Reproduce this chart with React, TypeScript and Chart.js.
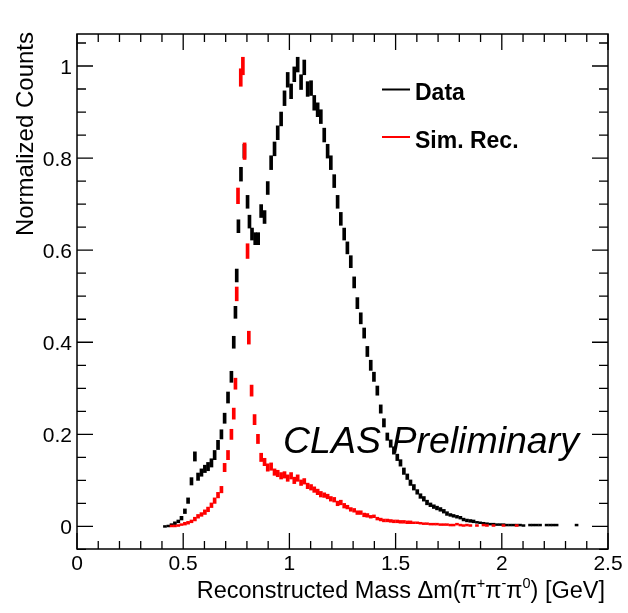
import { useEffect, useRef } from 'react';
import { Chart, registerables } from 'chart.js';

Chart.register(...registerables);

// Measured data: bin centre (GeV), normalized counts, statistical error
const dataMass = [
  0.414, 0.430, 0.445, 0.461, 0.477, 0.492, 0.508, 0.523, 0.539, 0.555,
  0.570, 0.586, 0.602, 0.617, 0.633, 0.648, 0.664, 0.680, 0.695, 0.711,
  0.727, 0.738, 0.746, 0.752, 0.760, 0.772, 0.788, 0.803, 0.812, 0.824,
  0.839, 0.853, 0.867, 0.883, 0.898, 0.914, 0.930, 0.945, 0.961, 0.977,
  0.992, 1.008, 1.023, 1.039, 1.055, 1.070, 1.086, 1.102, 1.117, 1.133,
  1.148, 1.164, 1.180, 1.195, 1.211, 1.227, 1.242, 1.258, 1.273, 1.289,
  1.305, 1.320, 1.336, 1.352, 1.367, 1.383, 1.398, 1.414, 1.430, 1.445,
  1.461, 1.477, 1.492, 1.508, 1.523, 1.539, 1.555, 1.570, 1.586, 1.602,
  1.617, 1.633, 1.648, 1.664, 1.680, 1.695, 1.711, 1.727, 1.742, 1.758,
  1.773, 1.789, 1.805, 1.820, 1.836, 1.852, 1.867, 1.883, 1.898, 1.914,
  1.930, 1.945, 1.961, 1.977, 1.992, 2.008, 2.023, 2.039, 2.055, 2.070,
  2.086, 2.102, 2.133, 2.148, 2.164, 2.180, 2.211, 2.227, 2.242, 2.258,
  2.352,
];
const dataCounts = [
  0.000, 0.001, 0.004, 0.007, 0.011, 0.018, 0.033, 0.056, 0.098, 0.152,
  0.108, 0.117, 0.125, 0.130, 0.138, 0.155, 0.177, 0.200, 0.235, 0.280,
  0.325, 0.400, 0.465, 0.545, 0.652, 0.765, 0.815, 0.705, 0.662, 0.635,
  0.625, 0.625, 0.685, 0.672, 0.735, 0.790, 0.820, 0.855, 0.885, 0.930,
  0.970, 0.945, 0.982, 1.003, 0.965, 0.997, 0.950, 0.952, 0.920, 0.905,
  0.890, 0.850, 0.815, 0.790, 0.750, 0.705, 0.668, 0.635, 0.605, 0.575,
  0.530, 0.485, 0.452, 0.420, 0.380, 0.350, 0.325, 0.295, 0.255, 0.225,
  0.195, 0.180, 0.165, 0.150, 0.138, 0.120, 0.108, 0.095, 0.085, 0.075,
  0.066, 0.060, 0.052, 0.047, 0.043, 0.040, 0.037, 0.033, 0.028, 0.025,
  0.023, 0.021, 0.019, 0.015, 0.013, 0.012, 0.011, 0.009, 0.008, 0.007,
  0.006, 0.005, 0.005, 0.004, 0.004, 0.004, 0.003, 0.003, 0.003, 0.003,
  0.003, 0.002, 0.003, 0.003, 0.003, 0.003, 0.003, 0.003, 0.003, 0.003,
  0.003,
];
const dataErr = [
  0.002, 0.002, 0.002, 0.003, 0.003, 0.004, 0.005, 0.006, 0.008, 0.010,
  0.008, 0.008, 0.008, 0.009, 0.009, 0.010, 0.010, 0.010, 0.011, 0.012,
  0.012, 0.013, 0.013, 0.014, 0.014, 0.015, 0.015, 0.014, 0.014, 0.013,
  0.013, 0.013, 0.014, 0.014, 0.014, 0.015, 0.015, 0.015, 0.015, 0.016,
  0.016, 0.016, 0.016, 0.016, 0.016, 0.016, 0.016, 0.016, 0.016, 0.015,
  0.015, 0.015, 0.015, 0.015, 0.014, 0.014, 0.014, 0.013, 0.013, 0.013,
  0.012, 0.012, 0.012, 0.011, 0.011, 0.011, 0.010, 0.010, 0.009, 0.009,
  0.008, 0.008, 0.008, 0.007, 0.007, 0.007, 0.006, 0.006, 0.006, 0.005,
  0.005, 0.005, 0.005, 0.004, 0.004, 0.004, 0.004, 0.004, 0.004, 0.003,
  0.003, 0.003, 0.003, 0.003, 0.003, 0.003, 0.003, 0.002, 0.002, 0.002,
  0.002, 0.002, 0.002, 0.002, 0.002, 0.002, 0.002, 0.002, 0.002, 0.002,
  0.002, 0.002, 0.002, 0.002, 0.002, 0.002, 0.002, 0.002, 0.002, 0.002,
  0.002,
];

// Simulated, reconstructed sample
const simMass = [
  0.445, 0.461, 0.477, 0.492, 0.508, 0.523, 0.539, 0.555, 0.570, 0.586,
  0.602, 0.617, 0.633, 0.648, 0.664, 0.680, 0.695, 0.711, 0.727, 0.738,
  0.746, 0.752, 0.758, 0.771, 0.781, 0.789, 0.803, 0.809, 0.822, 0.836,
  0.852, 0.867, 0.883, 0.898, 0.914, 0.930, 0.945, 0.961, 0.977, 0.992,
  1.008, 1.023, 1.039, 1.055, 1.070, 1.086, 1.102, 1.117, 1.133, 1.148,
  1.164, 1.180, 1.195, 1.211, 1.227, 1.242, 1.258, 1.273, 1.289, 1.305,
  1.320, 1.336, 1.352, 1.367, 1.383, 1.398, 1.414, 1.430, 1.445, 1.461,
  1.477, 1.492, 1.508, 1.523, 1.539, 1.555, 1.570, 1.586, 1.602, 1.617,
  1.633, 1.648, 1.664, 1.680, 1.695, 1.711, 1.727, 1.742, 1.758, 1.773,
  1.789, 1.805, 1.820, 1.836, 1.852, 1.883, 1.914, 1.930, 1.961, 2.008,
  2.070,
];
const simCounts = [
  0.001, 0.001, 0.002, 0.004, 0.006, 0.008, 0.011, 0.016, 0.022, 0.026,
  0.031, 0.037, 0.046, 0.056, 0.068, 0.080, 0.128, 0.155, 0.200, 0.245,
  0.310, 0.505, 0.718, 0.975, 1.000, 0.815, 0.598, 0.410, 0.295, 0.232,
  0.190, 0.150, 0.140, 0.128, 0.130, 0.118, 0.115, 0.110, 0.112, 0.105,
  0.110, 0.100, 0.105, 0.095, 0.098, 0.088, 0.085, 0.080, 0.075, 0.070,
  0.068, 0.065, 0.060, 0.058, 0.050, 0.052, 0.045, 0.042, 0.037, 0.035,
  0.030, 0.030, 0.025, 0.024, 0.021, 0.022, 0.017, 0.015, 0.013, 0.013,
  0.012, 0.011, 0.011, 0.010, 0.010, 0.009, 0.009, 0.008, 0.008, 0.007,
  0.006, 0.006, 0.005, 0.005, 0.005, 0.004, 0.004, 0.004, 0.003, 0.003,
  0.005, 0.003, 0.002, 0.003, 0.002, 0.002, 0.003, 0.002, 0.002, 0.002,
  0.002,
];
const simErr = [
  0.002, 0.002, 0.002, 0.002, 0.003, 0.003, 0.003, 0.004, 0.004, 0.004,
  0.005, 0.005, 0.005, 0.006, 0.006, 0.007, 0.009, 0.010, 0.011, 0.012,
  0.012, 0.015, 0.017, 0.019, 0.019, 0.018, 0.016, 0.014, 0.012, 0.011,
  0.010, 0.009, 0.008, 0.008, 0.008, 0.007, 0.007, 0.007, 0.007, 0.007,
  0.007, 0.007, 0.007, 0.006, 0.006, 0.006, 0.006, 0.006, 0.006, 0.006,
  0.005, 0.005, 0.005, 0.005, 0.005, 0.005, 0.005, 0.004, 0.004, 0.004,
  0.004, 0.004, 0.004, 0.004, 0.003, 0.003, 0.003, 0.003, 0.003, 0.003,
  0.003, 0.003, 0.003, 0.003, 0.003, 0.003, 0.003, 0.002, 0.002, 0.002,
  0.002, 0.002, 0.002, 0.002, 0.002, 0.002, 0.002, 0.002, 0.002, 0.002,
  0.002, 0.002, 0.002, 0.002, 0.002, 0.002, 0.002, 0.002, 0.002, 0.002,
  0.002,
];

const xTickValues = [0, 0.5, 1, 1.5, 2, 2.5];
const xTickLabels = ['0', '0.5', '1', '1.5', '2', '2.5'];
const yTickValues = [0, 0.2, 0.4, 0.6, 0.8, 1];
const yTickLabels = ['0', '0.2', '0.4', '0.6', '0.8', '1'];

const seriesNames = ['Data', 'Sim. Rec.'];
const seriesColors = ['#000000', '#ff0000'];

const FONT = '"Liberation Sans", Arial, Helvetica, sans-serif';

function errorBars(mass: number[], counts: number[], err: number[]) {
  return mass.map((m, i) => ({ x: m, y: [counts[i] - err[i], counts[i] + err[i]] }));
}

const framePlugin = {
  id: 'rootFrame',
  afterDraw(chart: any) {
    const { ctx, chartArea: a } = chart;
    const xs = chart.scales.x;
    const ys = chart.scales.y;
    ctx.save();

    // frame
    ctx.strokeStyle = '#000';
    ctx.lineWidth = 1.5;
    ctx.strokeRect(a.left, a.top, a.right - a.left, a.bottom - a.top);

    // x ticks (bottom and top, inward)
    ctx.lineWidth = 1.3;
    ctx.beginPath();
    for (let k = 0; k <= 25; k++) {
      const px = xs.getPixelForValue(k / 10);
      const len = k % 5 === 0 ? 16 : 8;
      ctx.moveTo(px, a.bottom);
      ctx.lineTo(px, a.bottom - len);
      ctx.moveTo(px, a.top);
      ctx.lineTo(px, a.top + len);
    }
    // y ticks (left and right, inward)
    for (let k = -1; k <= 21; k++) {
      const py = ys.getPixelForValue(k * 0.05);
      if (py > a.bottom + 1 || py < a.top - 1) continue;
      const len = k % 4 === 0 ? 16 : 9;
      ctx.moveTo(a.left, py);
      ctx.lineTo(a.left + len, py);
      ctx.moveTo(a.right, py);
      ctx.lineTo(a.right - len, py);
    }
    ctx.stroke();

    // tick labels
    ctx.fillStyle = '#000';
    ctx.font = `21px ${FONT}`;
    ctx.textBaseline = 'alphabetic';
    ctx.textAlign = 'center';
    xTickValues.forEach((v, i) => {
      ctx.fillText(xTickLabels[i], xs.getPixelForValue(v), 570);
    });
    ctx.textAlign = 'right';
    yTickValues.forEach((v, i) => {
      ctx.fillText(yTickLabels[i], 72, ys.getPixelForValue(v) + 7.5);
    });

    // y title
    ctx.save();
    ctx.translate(33, a.top - 2);
    ctx.rotate(-Math.PI / 2);
    ctx.font = `24px ${FONT}`;
    ctx.textAlign = 'right';
    ctx.fillText('Normalized Counts', 0, 0);
    ctx.restore();

    // x title with superscripts
    const base = `23.5px ${FONT}`;
    const sup = `14.5px ${FONT}`;
    const parts: [string, boolean][] = [
      ['Reconstructed Mass \u0394m(\u03c0', false],
      ['+', true],
      ['\u03c0', false],
      ['-', true],
      ['\u03c0', false],
      ['0', true],
      [') [GeV]', false],
    ];
    let total = 0;
    parts.forEach(([t, s]) => {
      ctx.font = s ? sup : base;
      total += ctx.measureText(t).width;
    });
    let cx = 605 - total;
    ctx.textAlign = 'left';
    parts.forEach(([t, s]) => {
      ctx.font = s ? sup : base;
      ctx.fillText(t, cx, s ? 588 : 598);
      cx += ctx.measureText(t).width;
    });

    // legend
    ctx.lineWidth = 2;
    ctx.font = `bold 23px ${FONT}`;
    const legendY = [89.5, 137];
    seriesNames.forEach((name, i) => {
      ctx.strokeStyle = seriesColors[i];
      ctx.beginPath();
      ctx.moveTo(382, legendY[i]);
      ctx.lineTo(410, legendY[i]);
      ctx.stroke();
      ctx.fillStyle = '#000';
      ctx.fillText(name, 415, legendY[i] + 10.5);
    });

    // label
    ctx.font = `italic 37.5px ${FONT}`;
    ctx.fillText('CLAS Preliminary', 283, 453);

    ctx.restore();
  },
};

export default function App() {
  const canvasRef = useRef<HTMLCanvasElement | null>(null);

  useEffect(() => {
    if (!canvasRef.current) return;
    const chart = new Chart(canvasRef.current, {
      type: 'bar',
      data: {
        datasets: [
          {
            label: seriesNames[1],
            data: errorBars(simMass, simCounts, simErr) as any,
            backgroundColor: seriesColors[1],
            barThickness: 3,
            grouped: false,
            borderWidth: 0,
          },
          {
            label: seriesNames[0],
            data: errorBars(dataMass, dataCounts, dataErr) as any,
            backgroundColor: seriesColors[0],
            barThickness: 3,
            grouped: false,
            borderWidth: 0,
          },
        ],
      },
      options: {
        responsive: false,
        animation: false,
        devicePixelRatio: 1,
        layout: { padding: { left: 77, right: 20, top: 34, bottom: 64 } },
        plugins: { legend: { display: false }, tooltip: { enabled: false } },
        scales: {
          x: { type: 'linear', min: 0, max: 2.5, offset: false, display: false },
          y: { type: 'linear', min: -0.049, max: 1.0695, display: false },
        },
      },
      plugins: [framePlugin],
    });
    return () => chart.destroy();
  }, []);

  return (
    <div style={{ position: 'absolute', left: 0, top: 0, width: 628, height: 613, background: '#fff' }}>
      <canvas ref={canvasRef} width={628} height={613} style={{ width: 628, height: 613 }} />
    </div>
  );
}
